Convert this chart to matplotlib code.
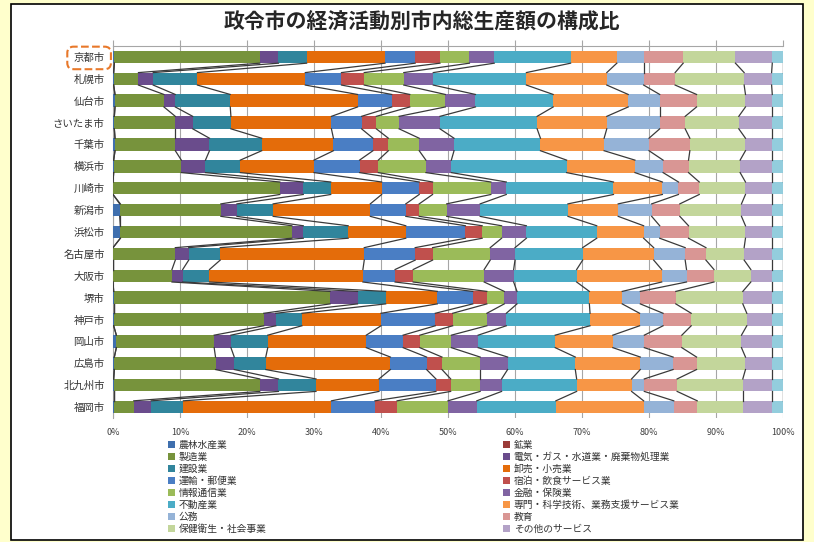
import numpy as np
import matplotlib
matplotlib.use("Agg")
import matplotlib.pyplot as plt
from matplotlib.patches import Rectangle, Patch

plt.rcParams['font.family'] = ['Noto Sans CJK JP', 'DejaVu Sans']

# cities, top to bottom
cities = ["京都市", "札幌市", "仙台市", "さいたま市", "千葉市", "横浜市", "川崎市", "新潟市", "浜松市",
          "名古屋市", "大阪市", "堺市", "神戸市", "岡山市", "広島市", "北九州市", "福岡市"]

# share of each industry (%), same city order
nourin   = [0.2, 0.1, 0.3, 0.2, 0.3, 0.1, 0.0, 1.0, 1.1, 0.0, 0.0, 0.1, 0.1, 0.5, 0.2, 0.1, 0.1]
kougyou  = [0.0, 0.0, 0.0, 0.0, 0.0, 0.0, 0.0, 0.1, 0.0, 0.0, 0.0, 0.0, 0.0, 0.0, 0.0, 0.0, 0.0]
seizou   = [21.7, 3.7, 7.3, 9.1, 9.0, 10.1, 24.9, 15.0, 25.6, 9.3, 8.8, 32.3, 22.4, 14.6, 15.1, 21.8, 3.0]
denki    = [2.8, 2.2, 1.7, 2.6, 5.1, 3.6, 3.5, 2.4, 1.7, 2.0, 1.6, 4.1, 1.8, 2.5, 2.8, 2.8, 2.6]
kensetsu = [4.2, 6.6, 8.2, 5.7, 7.8, 5.2, 4.1, 5.4, 6.7, 4.7, 4.0, 4.2, 3.9, 5.5, 4.7, 5.6, 4.8]
oroshi   = [11.7, 16.1, 19.0, 15.0, 10.7, 11.0, 7.6, 14.5, 8.6, 21.5, 22.9, 7.7, 11.8, 14.7, 18.6, 9.4, 22.1]
unyu     = [4.5, 5.4, 5.1, 4.5, 5.9, 6.8, 5.6, 5.3, 8.9, 7.6, 4.8, 5.3, 8.1, 5.5, 5.4, 8.5, 6.5]
shukuhaku = [3.7, 3.4, 2.7, 2.2, 2.3, 2.8, 2.0, 2.0, 2.5, 2.6, 2.7, 2.1, 2.6, 2.5, 2.3, 2.2, 3.3]
jouhou   = [4.4, 5.9, 5.3, 3.4, 4.6, 7.1, 8.7, 4.1, 2.9, 8.6, 10.6, 2.6, 5.1, 4.7, 5.7, 4.4, 7.6]
kinyu    = [3.7, 4.4, 4.5, 6.1, 5.2, 3.8, 2.3, 5.0, 3.7, 3.7, 4.4, 1.9, 2.9, 4.0, 4.1, 3.2, 4.3]
fudousan = [11.4, 13.9, 11.6, 14.5, 12.9, 17.2, 16.0, 13.1, 10.5, 10.1, 9.4, 10.8, 12.5, 11.5, 10.1, 11.2, 11.8]
senmon   = [6.9, 12.0, 11.2, 10.4, 9.5, 10.2, 7.3, 7.5, 7.0, 10.6, 12.7, 4.9, 7.4, 8.6, 9.7, 8.2, 13.1]
koumu    = [4.0, 5.5, 4.7, 7.9, 6.7, 4.2, 2.4, 5.0, 2.4, 4.7, 3.7, 2.7, 3.5, 4.7, 4.9, 1.9, 4.5]
kyouiku  = [5.9, 4.7, 5.5, 3.8, 6.1, 3.8, 3.1, 4.2, 4.3, 3.1, 4.1, 5.3, 4.2, 5.6, 3.5, 4.9, 3.5]
hoken    = [7.8, 10.3, 7.3, 8.0, 8.3, 7.7, 6.9, 9.2, 8.5, 5.7, 5.5, 10.0, 8.3, 8.9, 7.3, 9.8, 6.8]
sonota   = [5.5, 4.1, 4.0, 5.0, 4.0, 4.8, 4.0, 4.6, 4.0, 4.2, 3.2, 4.4, 3.8, 4.6, 4.0, 4.4, 4.4]
nokori   = [1.6, 1.7, 1.6, 1.6, 1.6, 1.6, 1.6, 1.6, 1.6, 1.6, 1.6, 1.6, 1.6, 1.6, 1.6, 1.6, 1.6]

labels = ["農林水産業", "鉱業", "製造業", "電気・ガス・水道業・廃棄物処理業", "建設業", "卸売・小売業",
          "運輸・郵便業", "宿泊・飲食サービス業", "情報通信業", "金融・保険業", "不動産業",
          "専門・科学技術、業務支援サービス業", "公務", "教育", "保健衛生・社会事業", "その他のサービス"]

series = [nourin, kougyou, seizou, denki, kensetsu, oroshi, unyu, shukuhaku, jouhou, kinyu,
          fudousan, senmon, koumu, kyouiku, hoken, sonota, nokori]
colors = ["#3F6FAE", "#9B3B38", "#77933C", "#6A4C8C", "#31859C", "#E46C0A", "#4A7EC4", "#C0504D",
          "#9BBB59", "#8064A2", "#4BACC6", "#F79646", "#95B3D7", "#D99694", "#C3D69B", "#B3A2C7", "#93CDDD"]

data = np.array(series, dtype=float)
data = data / data.sum(axis=0) * 100
cum = np.cumsum(data, axis=0)
left = cum - data

fig = plt.figure(figsize=(8.14, 5.42), dpi=100)
fig.patch.set_facecolor("#FFFFCC")
fig.patches.append(Rectangle((11 / 814, 1 - 540 / 542), 792 / 814, 536 / 542, transform=fig.transFigure,
                             facecolor="white", edgecolor="black", linewidth=1.2, zorder=-1))

ax = fig.add_axes([113 / 814, 1 - 418 / 542, 670 / 814, 372 / 542])
ax.set_facecolor("none")

y = np.arange(len(cities))
h = 0.57
for k in range(len(series)):
    ax.barh(y, data[k], left=left[k], height=h, color=colors[k], linewidth=0, zorder=3)

# series lines between neighbouring bars
for k in range(len(series)):
    for i in range(len(cities) - 1):
        ax.plot([cum[k, i], cum[k, i + 1]], [i + h / 2, i + 1 - h / 2], color="#3A3A3A", lw=0.9, zorder=4)

ax.set_xlim(0, 100)
ax.set_ylim(len(cities) - 0.5, -0.5)
ax.set_xticks(np.arange(0, 101, 10))
ax.set_xticklabels([f"{v}%" for v in range(0, 101, 10)], fontsize=6.5, color="#404040")
ax.xaxis.grid(True, color="#A6A6A6", lw=0.8, zorder=0)
ax.set_axisbelow(True)
ax.tick_params(axis="x", top=True, bottom=False, labeltop=False, labelbottom=True,
               direction="out", length=4, color="#A6A6A6", pad=3)
ax.set_yticks(y)
ax.set_yticklabels(cities, fontsize=7.5, color="#333333")
ax.tick_params(axis="y", length=0, pad=6)
for s in ["right", "bottom"]:
    ax.spines[s].set_visible(False)
ax.spines["top"].set_color("#A6A6A6")
ax.spines["left"].set_color("#A6A6A6")

# highlight Kyoto label
ax.get_yticklabels()[0].set_bbox(dict(boxstyle="round,pad=0.6", facecolor="none",
                                      edgecolor="#E8782A", linestyle="--", linewidth=1.5))

fig.text(422 / 814, 1 - 22 / 542, "政令市の経済活動別市内総生産額の構成比", ha="center", va="center",
         fontsize=15, fontweight="bold", color="#262626")

handles = [Patch(facecolor=colors[k], edgecolor="none") for k in range(len(labels))]
leg_kw = dict(frameon=False, fontsize=7, handlelength=0.7, handleheight=0.7, handletextpad=0.4,
              labelspacing=0.2, borderpad=0, borderaxespad=0, loc="upper left")
l1 = fig.legend(handles[0::2], labels[0::2], bbox_to_anchor=(168 / 814, 1 - 440 / 542), **leg_kw)
l2 = fig.legend(handles[1::2], labels[1::2], bbox_to_anchor=(503 / 814, 1 - 440 / 542), **leg_kw)
for lg in (l1, l2):
    for t in lg.get_texts():
        t.set_color("#333333")

fig.savefig("out.png", dpi=100, facecolor=fig.get_facecolor())
